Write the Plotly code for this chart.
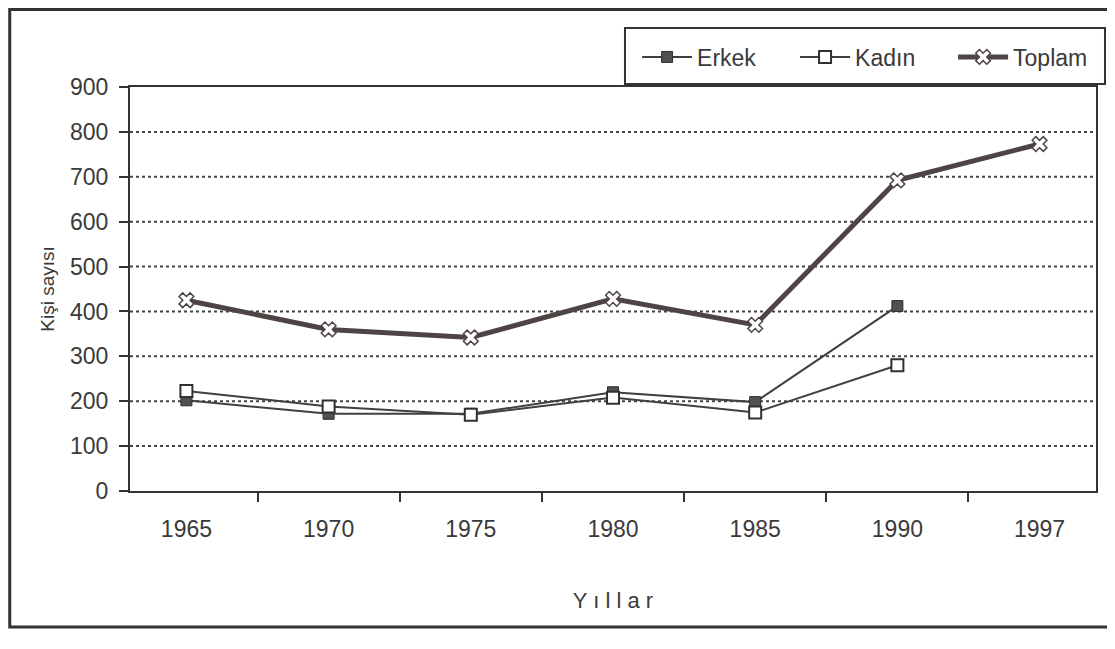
import plotly.graph_objects as go

years = ["1965", "1970", "1975", "1980", "1985", "1990", "1997"]
erkek = [202, 172, 172, 220, 198, 412, None]
kadin = [223, 188, 170, 208, 175, 280, None]
toplam = [425, 360, 342, 428, 370, 692, 773]
grid_values = [100, 200, 300, 400, 500, 600, 700, 800]

FONT = "Liberation Sans Narrow, Arial Narrow, Liberation Sans, Arial, sans-serif"
INK = "#3a3a3a"

fig = go.Figure()
fig.add_trace(go.Scatter(
    x=years, y=erkek, name="Erkek", mode="lines+markers",
    line=dict(color="#404040", width=2),
    marker=dict(symbol="square", size=11, color="#505050", line=dict(color="#303030", width=1)),
))
fig.add_trace(go.Scatter(
    x=years, y=kadin, name="Kadın", mode="lines+markers",
    line=dict(color="#404040", width=2),
    marker=dict(symbol="square", size=12, color="white", line=dict(color="#303030", width=2)),
))
fig.add_trace(go.Scatter(
    x=years, y=toplam, name="Toplam", mode="lines+markers",
    line=dict(color="#4e4444", width=5),
    marker=dict(symbol="x", size=13, color="white", line=dict(color="#4e4444", width=1.5)),
))

shapes = []
for g in grid_values:
    shapes.append(dict(type="line", xref="paper", yref="y", x0=0, x1=1, y0=g, y1=g,
                       line=dict(color="#444444", width=2, dash="dot"), layer="below"))
# outer chart frame
shapes.append(dict(type="rect", xref="paper", yref="paper",
                   x0=-0.1245, x1=1.0166, y0=-0.3366, y1=1.192,
                   line=dict(color="#333333", width=3)))
# legend frame
shapes.append(dict(type="rect", xref="paper", yref="paper",
                   x0=0.5124, x1=1.0093, y0=1.0074, y1=1.146,
                   line=dict(color="#333333", width=2)))

fig.update_layout(
    width=1115, height=649,
    margin=dict(l=122, r=27, t=79, b=166, autoexpand=False),
    paper_bgcolor="white", plot_bgcolor="white",
    font=dict(family=FONT, size=23, color=INK),
    shapes=shapes,
    showlegend=True,
    legend=dict(
        orientation="h", xref="container", yref="container",
        x=0.5642, y=0.9245, xanchor="left", yanchor="middle",
        borderwidth=0, bgcolor="rgba(0,0,0,0)",
        font=dict(family=FONT, size=23, color=INK),
        itemwidth=50, entrywidth=93, entrywidthmode="pixels",
    ),
    xaxis=dict(
        type="category", showgrid=False, showline=True, linecolor="#333333", linewidth=2,
        mirror=True, ticks="outside", ticklen=9, tickwidth=2, tickcolor="#333333",
        tickson="boundaries", ticklabelstandoff=16, automargin=False,
        tickfont=dict(family=FONT, size=23, color=INK),
        title=dict(text="Y ı l l a r", standoff=52, font=dict(family=FONT, size=22, color=INK)),
    ),
    yaxis=dict(
        range=[0, 900], tickvals=[0, 100, 200, 300, 400, 500, 600, 700, 800, 900],
        showgrid=False, zeroline=False, showline=True, linecolor="#333333", linewidth=2,
        mirror=True, ticks="outside", ticklen=9, tickwidth=2, tickcolor="#333333",
        ticklabelstandoff=6, automargin=False,
        tickfont=dict(family=FONT, size=23, color=INK),
        title=dict(text="Kişi sayısı", standoff=10, font=dict(family=FONT, size=19, color=INK)),
    ),
)

fig.write_html("out.html")
